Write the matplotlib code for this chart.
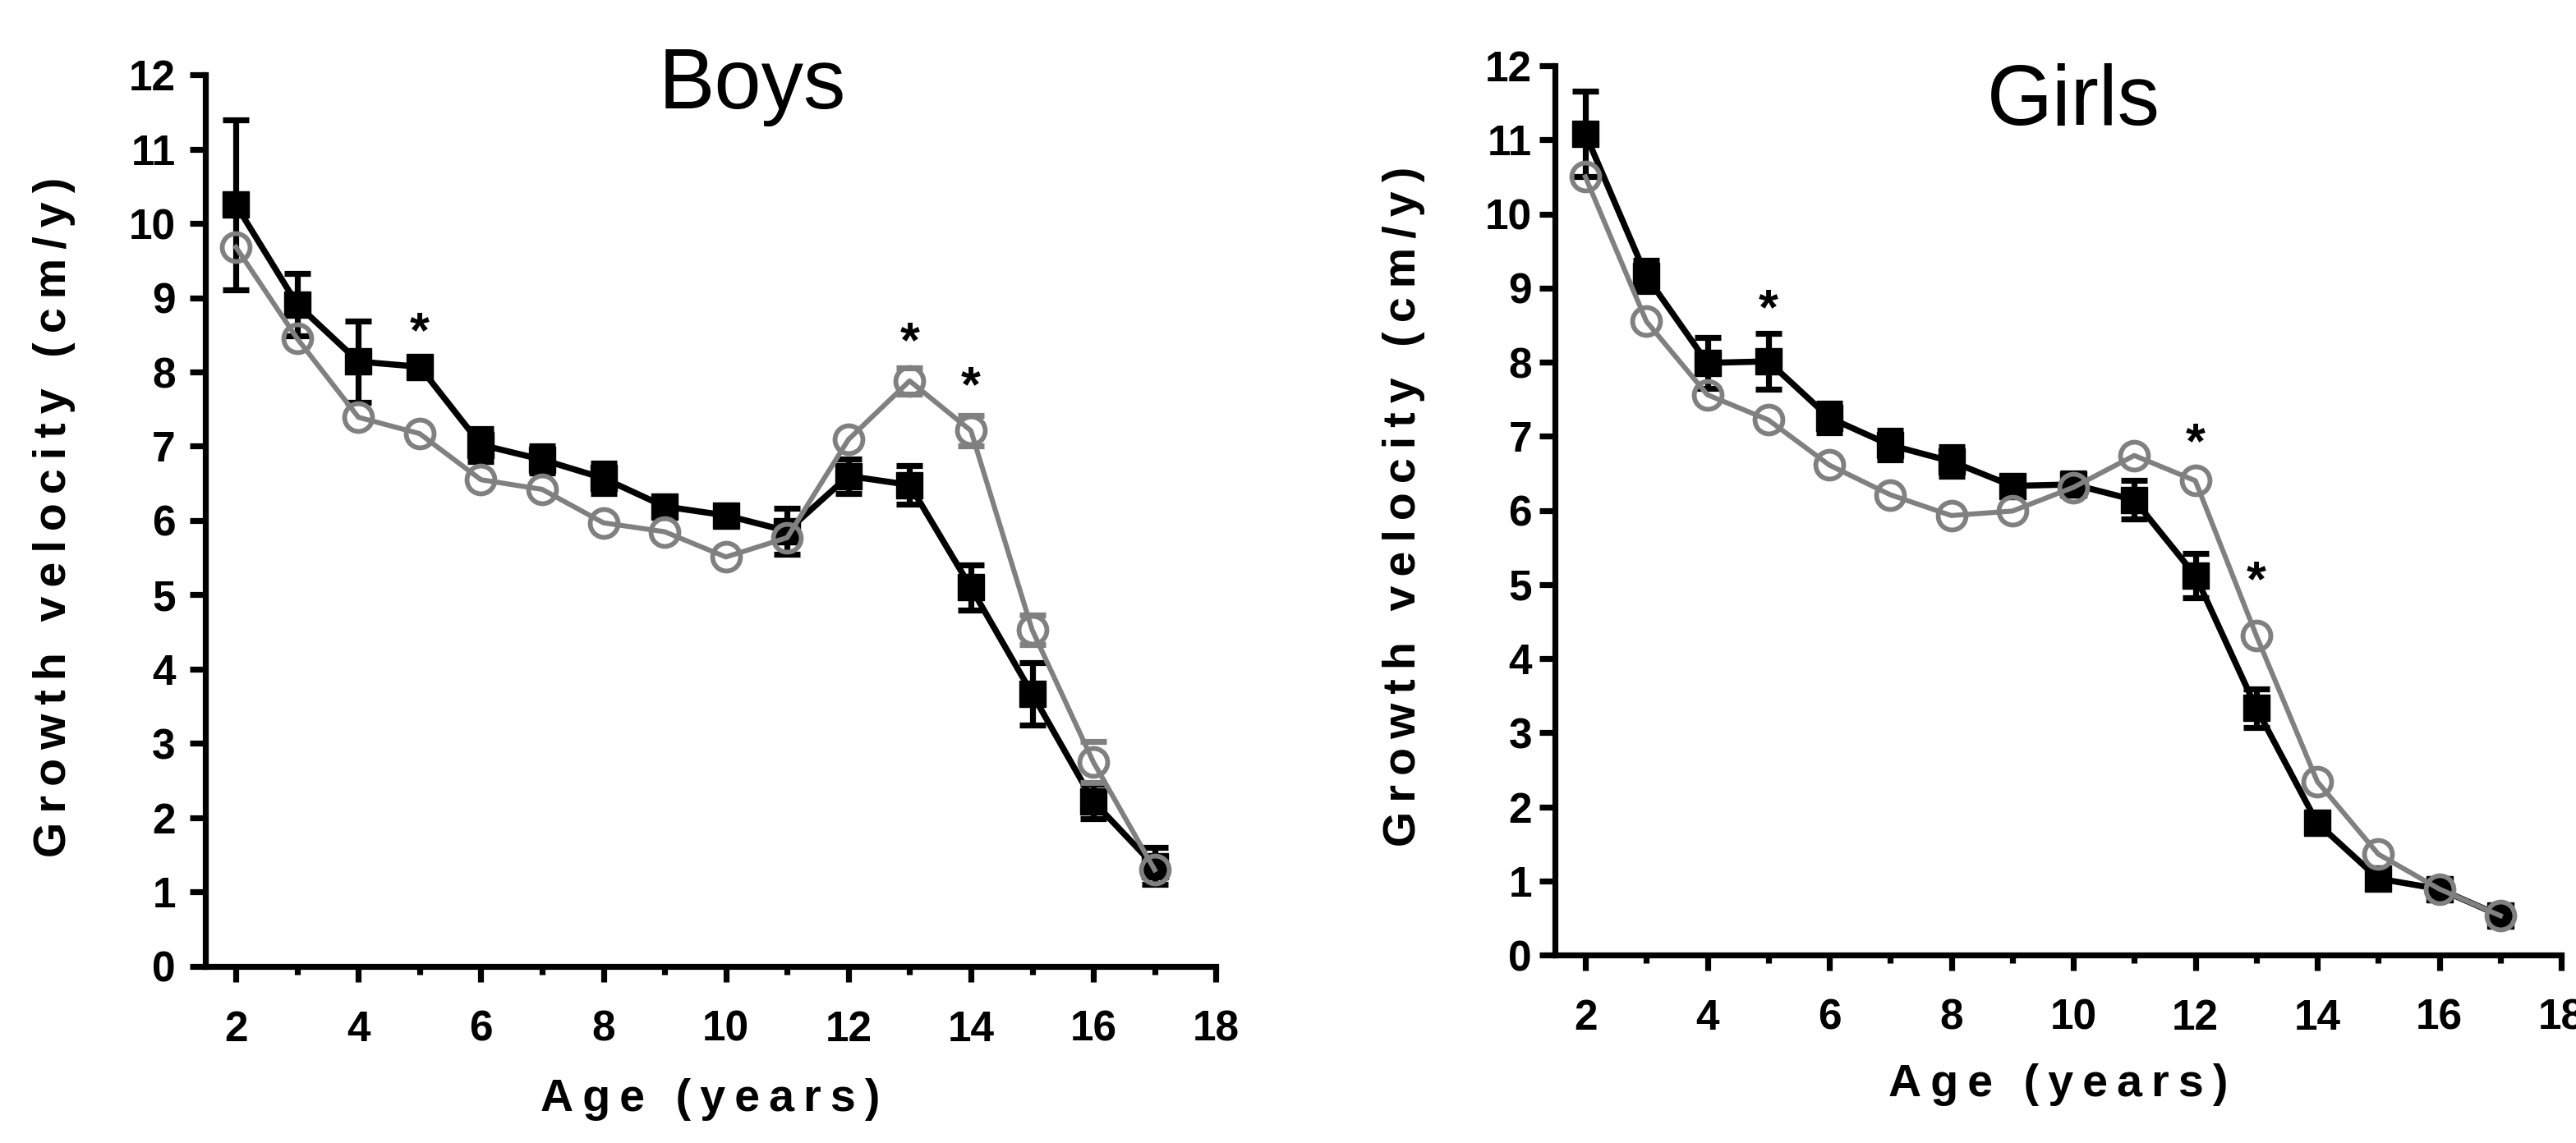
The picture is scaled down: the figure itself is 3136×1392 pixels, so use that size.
import numpy as np
import matplotlib
matplotlib.use('Agg')
import matplotlib.pyplot as plt
from matplotlib.ticker import MultipleLocator

plt.rcParams['font.family'] = ['Liberation Sans', 'DejaVu Sans']

# ---- data ----
ages = np.arange(2, 18)

boys_sq = [10.25, 8.91, 8.14, 8.07, 7.02, 6.82, 6.57, 6.19,
           6.07, 5.86, 6.60, 6.48, 5.10, 3.67, 2.22, 1.35]
boys_sq_err = [1.14, 0.42, 0.55, 0.12, 0.22, 0.18, 0.20, 0.12,
               0.12, 0.31, 0.23, 0.26, 0.30, 0.42, 0.23, 0.25]
boys_ci = [9.68, 8.45, 7.39, 7.17, 6.55, 6.42, 5.97, 5.85,
           5.51, 5.77, 7.09, 7.88, 7.21, 4.53, 2.75, 1.30]
boys_ci_err = [0, 0, 0, 0, 0, 0, 0, 0,
               0, 0, 0, 0.18, 0.20, 0.20, 0.28, 0]
boys_stars = [(5, 8.51), (13, 8.38), (14, 7.78)]

girls_sq = [11.08, 9.16, 7.99, 8.01, 7.25, 6.88, 6.66, 6.33,
            6.35, 6.14, 5.12, 3.33, 1.78, 1.03, 0.89, 0.53]
girls_sq_err = [0.58, 0.21, 0.34, 0.38, 0.20, 0.20, 0.20, 0.12,
                0.15, 0.26, 0.30, 0.26, 0.10, 0.08, 0.08, 0.08]
girls_ci = [10.50, 8.55, 7.56, 7.22, 6.61, 6.21, 5.93, 5.99,
            6.31, 6.74, 6.40, 4.31, 2.34, 1.36, 0.89, 0.53]
girls_ci_err = [0] * 16
girls_stars = [(5, 8.69), (12, 6.88), (13, 5.02)]

panels = [
    ('Boys', boys_sq, boys_sq_err, boys_ci, boys_ci_err, boys_stars),
    ('Girls', girls_sq, girls_sq_err, girls_ci, girls_ci_err, girls_stars),
]

GREY = '#808080'
TS = '\u2009'  # thin space used as letter spacing in the axis titles

fig = plt.figure(figsize=(15.68, 6.96), dpi=200)
ax1 = fig.add_axes([0.0797, 0.1545, 0.3923, 0.7801])
ax2 = fig.add_axes([0.6036, 0.1645, 0.3907, 0.7780])

title_pos = [(0.541, 0.962), (0.515, 0.9335)]
ylab_x = [-0.128, -0.129]
xlab_y = [-0.125, -0.122]
ytick_pad = [6.0, 3.0]

for k, (ax, (name, sq, sq_err, ci, ci_err, stars)) in enumerate(zip((ax1, ax2), panels)):
    sq = np.array(sq)
    ci = np.array(ci)
    ci_err = np.array(ci_err)

    # black squares with SE bars
    ax.errorbar(ages, sq, yerr=sq_err, fmt='none', ecolor='black',
                elinewidth=2.6, capsize=5.8, capthick=2.6, zorder=3)
    ax.plot(ages, sq, color='black', lw=2.7, marker='s', ms=11.2, mew=0.5,
            mfc='black', mec='black', zorder=3, clip_on=False)

    # grey open circles, error caps only where they stick out
    m = ci_err > 0
    ax.errorbar(ages[m], ci[m], yerr=ci_err[m], fmt='none', ecolor=GREY,
                elinewidth=0, capsize=5.8, capthick=2.6, zorder=4)
    ax.plot(ages, ci, color=GREY, lw=2.2, marker='o', ms=12.2, mew=2.1,
            mfc='none', mec=GREY, zorder=5, clip_on=False)

    for sx, sy in stars:
        ax.text(sx, sy, '*', ha='center', va='center', fontsize=22,
                fontweight='bold', zorder=6)

    ax.text(*title_pos[k], name, transform=ax.transAxes, ha='center',
            va='baseline', fontsize=37)

    ax.set_xlim(1.5, 18)
    ax.set_ylim(0, 12)
    ax.spines['top'].set_visible(False)
    ax.spines['right'].set_visible(False)
    ax.spines['left'].set_linewidth(2.6)
    ax.spines['bottom'].set_linewidth(2.6)

    ax.xaxis.set_major_locator(MultipleLocator(2))
    ax.xaxis.set_minor_locator(MultipleLocator(1))
    ax.yaxis.set_major_locator(MultipleLocator(1))
    ax.tick_params(axis='x', which='major', direction='out', length=7,
                   width=2.6, pad=12, labelsize=18.5)
    ax.tick_params(axis='x', which='minor', direction='out', length=3.6,
                   width=2.6)
    ax.tick_params(axis='y', which='major', direction='out', length=7,
                   width=2.6, pad=ytick_pad[k], labelsize=18.5)
    for lab in ax.get_xticklabels() + ax.get_yticklabels():
        lab.set_fontweight('bold')

    ax.set_ylabel(TS.join('Growth velocity (cm/y)'),
                  fontsize=20, fontweight='bold')
    ax.yaxis.set_label_coords(ylab_x[k], 0.504)
    ax.set_xlabel(TS.join('Age (years)'), fontsize=20, fontweight='bold')
    ax.xaxis.set_label_coords(0.5, xlab_y[k])

fig.savefig('out.png', dpi=200)
